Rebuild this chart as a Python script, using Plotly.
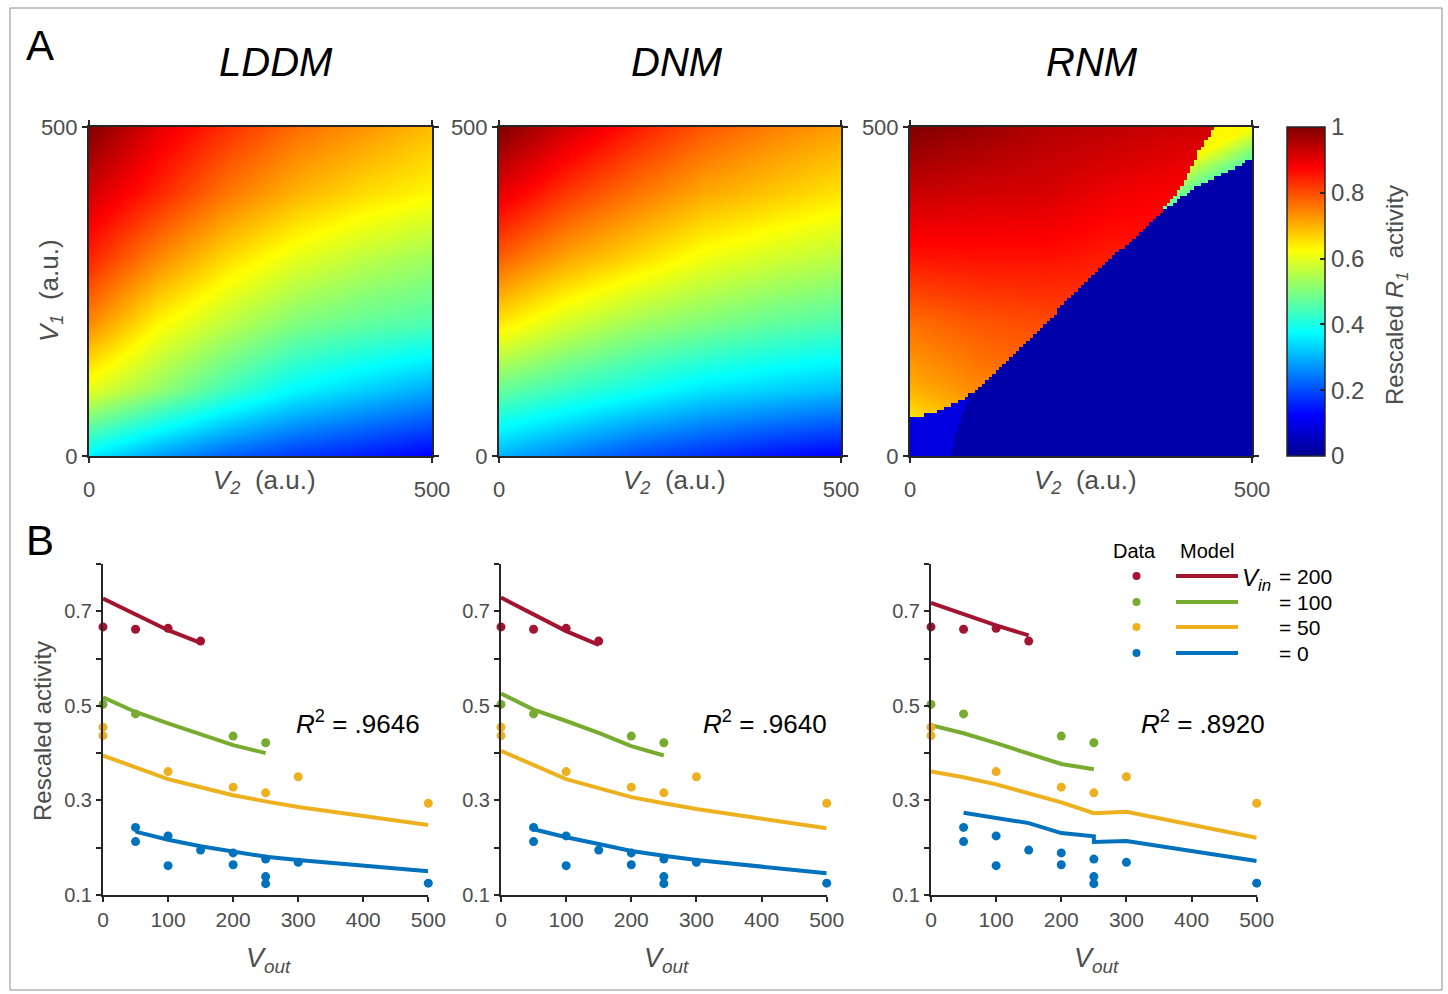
import numpy as np
import plotly.graph_objects as go

W, H = 1448, 994
FONT = "Liberation Sans, Arial, Helvetica, sans-serif"
TICK_GRAY = "#4d4d4d"
AXIS_DARK = "#262626"

# ---------------- Panel A data ----------------
GRID = [0, 100, 200, 300, 400, 500]          # V2 (columns) and V1 (rows)

# rows: V1 = 0..500, cols: V2 = 0..500
LDDM_Z = [
    [0.36, 0.28, 0.22, 0.18, 0.15, 0.12],
    [0.60, 0.52, 0.44, 0.37, 0.33, 0.29],
    [0.74, 0.63, 0.56, 0.50, 0.47, 0.45],
    [0.84, 0.74, 0.66, 0.60, 0.56, 0.53],
    [0.92, 0.84, 0.76, 0.70, 0.66, 0.63],
    [1.00, 0.90, 0.83, 0.77, 0.73, 0.69],
]
DNM_Z = [
    [0.30, 0.25, 0.20, 0.17, 0.14, 0.12],
    [0.475, 0.43, 0.39, 0.35, 0.33, 0.31],
    [0.645, 0.58, 0.53, 0.50, 0.47, 0.45],
    [0.78, 0.71, 0.66, 0.61, 0.58, 0.555],
    [0.90, 0.82, 0.76, 0.71, 0.68, 0.65],
    [1.00, 0.92, 0.85, 0.79, 0.75, 0.72],
]
# RNM: winning (upper-left) state values
RNM_UPPER = [
    [0.58, 0.66, 0.72, 0.78, 0.82, 0.85],
    [0.70, 0.74, 0.77, 0.80, 0.83, 0.85],
    [0.765, 0.79, 0.80, 0.82, 0.84, 0.86],
    [0.855, 0.86, 0.86, 0.845, 0.86, 0.87],
    [0.93, 0.92, 0.915, 0.89, 0.875, 0.88],
    [1.00, 0.975, 0.95, 0.94, 0.925, 0.92],
]
RNM_EDGE_V2 = [0, 40, 90, 130, 180, 230, 275, 325, 368]
RNM_EDGE_V1 = [57, 68, 94, 130, 181, 237, 283, 329, 372]
RNM_WEDGE_TOP_V2 = [368, 398, 422, 446]
RNM_WEDGE_TOP_V1 = [372, 411, 462, 500]
RNM_WEDGE_BOT_V2 = [368, 422, 471, 500]
RNM_WEDGE_BOT_V1 = [372, 411, 436, 452]
RNM_WEDGE_DIST = [0, 20, 50]
RNM_WEDGE_VAL = [0.47, 0.53, 0.63]
RNM_LOW_SPLIT_V1 = [0, 30, 60, 94]
RNM_LOW_SPLIT_V2 = [61, 66, 76, 88]
RNM_LOW_LIGHT = 0.09
RNM_LOW_DARK = 0.03

# ---------------- Panel B data ----------------
DATA_200_X = [0, 50, 100, 150]
DATA_200_Y = [0.667, 0.662, 0.664, 0.637]
DATA_100_X = [0, 50, 200, 250]
DATA_100_Y = [0.503, 0.483, 0.436, 0.422]
DATA_50_X = [0, 0, 100, 200, 250, 300, 500]
DATA_50_Y = [0.455, 0.437, 0.361, 0.328, 0.316, 0.350, 0.294]
DATA_0_X = [50, 50, 100, 100, 150, 200, 200, 250, 250, 250, 300, 500]
DATA_0_Y = [0.243, 0.213, 0.225, 0.162, 0.195, 0.189, 0.164, 0.176, 0.139, 0.124, 0.169, 0.125]

M200_X = [0, 50, 100, 150]
M100_X = [0, 50, 100, 150, 200, 250]
M50_X = [0, 50, 100, 150, 200, 250, 300, 500]
M0_X = [50, 100, 150, 200, 250, 300, 500]
M0_X_RNM = [50, 100, 150, 200, 250, 250, 300, 500]

LDDM_M200 = [0.727, 0.694, 0.660, 0.633]
LDDM_M100 = [0.518, 0.487, 0.463, 0.439, 0.417, 0.400]
LDDM_M50 = [0.395, 0.371, 0.345, 0.328, 0.311, 0.298, 0.286, 0.248]
LDDM_M0 = [0.234, 0.217, 0.203, 0.191, 0.181, 0.174, 0.150]

DNM_M200 = [0.729, 0.694, 0.658, 0.629]
DNM_M100 = [0.526, 0.492, 0.468, 0.443, 0.415, 0.395]
DNM_M50 = [0.405, 0.376, 0.345, 0.326, 0.307, 0.294, 0.282, 0.241]
DNM_M0 = [0.239, 0.222, 0.208, 0.193, 0.183, 0.174, 0.146]

RNM_M200 = [0.718, 0.694, 0.670, 0.649]
RNM_M100 = [0.459, 0.442, 0.421, 0.398, 0.377, 0.366]
RNM_M50 = [0.361, 0.349, 0.334, 0.315, 0.296, 0.273, 0.276, 0.221]
RNM_M0 = [0.274, 0.262, 0.252, 0.231, 0.224, 0.212, 0.214, 0.172]

R2_TEXT = [".9646", ".9640", ".8920"]
MODEL_NAMES = ["LDDM", "DNM", "RNM"]
VIN_LABELS = ["200", "100", "50", "0"]
COLORS = ["#A2142F", "#77AC30", "#EDB120", "#0072BD"]

B_YTICKS = [0.1, 0.3, 0.5, 0.7]
B_YMINOR = [0.2, 0.4, 0.6, 0.8]
B_XTICKS = [0, 100, 200, 300, 400, 500]

JET = [[0.0, "rgb(0,0,143)"], [0.125, "rgb(0,0,255)"], [0.375, "rgb(0,255,255)"],
       [0.625, "rgb(255,255,0)"], [0.875, "rgb(255,0,0)"], [1.0, "rgb(128,0,0)"]]


def bilinear(table, v2, v1):
    rows = [np.interp(v2, GRID, r) for r in table]
    return float(np.interp(v1, GRID, rows))


# build the RNM field on a fine grid from the read regions
N = 100
CELLS = np.arange(N) * 5 + 2.5
rnm_z = np.empty((N, N))
for i, v1 in enumerate(CELLS):
    for j, v2 in enumerate(CELLS):
        split = np.interp(v1, RNM_LOW_SPLIT_V1, RNM_LOW_SPLIT_V2, right=-1)
        low = RNM_LOW_LIGHT if v2 < split else RNM_LOW_DARK
        if v2 <= RNM_EDGE_V2[-1]:
            edge = np.interp(v2, RNM_EDGE_V2, RNM_EDGE_V1)
            rnm_z[i, j] = bilinear(RNM_UPPER, v2, v1) if v1 >= edge else low
        else:
            top = np.interp(v2, RNM_WEDGE_TOP_V2, RNM_WEDGE_TOP_V1, right=1e9)
            bot = np.interp(v2, RNM_WEDGE_BOT_V2, RNM_WEDGE_BOT_V1)
            if v1 >= top:
                rnm_z[i, j] = bilinear(RNM_UPPER, v2, v1)
            elif v1 >= bot:
                rnm_z[i, j] = float(np.interp(v1 - bot, RNM_WEDGE_DIST, RNM_WEDGE_VAL))
            else:
                rnm_z[i, j] = low


def px(x):
    return x / W


def py(y):
    return 1 - y / H


fig = go.Figure()

# ---------- panel A heatmaps ----------
A_X = [(89, 432), (499, 841), (910, 1252)]
A_Y = (127, 456)
fig.add_trace(go.Heatmap(x=GRID, y=GRID, z=LDDM_Z, zsmooth="best", coloraxis="coloraxis",
                         xaxis="x", yaxis="y", hoverinfo="skip"))
fig.add_trace(go.Heatmap(x=GRID, y=GRID, z=DNM_Z, zsmooth="best", coloraxis="coloraxis",
                         xaxis="x2", yaxis="y2", hoverinfo="skip"))
fig.add_trace(go.Heatmap(x=CELLS, y=CELLS, z=rnm_z, zsmooth=False, coloraxis="coloraxis",
                         xaxis="x3", yaxis="y3", hoverinfo="skip"))

# ---------- panel B lines ----------
B_X = [(103, 428.3), (501, 826.7), (931, 1256.7)]
B_Y = (564, 895)
models = [
    [(M200_X, LDDM_M200), (M100_X, LDDM_M100), (M50_X, LDDM_M50), (M0_X, LDDM_M0)],
    [(M200_X, DNM_M200), (M100_X, DNM_M100), (M50_X, DNM_M50), (M0_X, DNM_M0)],
    [(M200_X, RNM_M200), (M100_X, RNM_M100), (M50_X, RNM_M50), (M0_X_RNM, RNM_M0)],
]
datas = [(DATA_200_X, DATA_200_Y), (DATA_100_X, DATA_100_Y), (DATA_50_X, DATA_50_Y), (DATA_0_X, DATA_0_Y)]
for p in range(3):
    xa, ya = f"x{p + 4}", f"y{p + 4}"
    for k in range(4):
        mx, my = models[p][k]
        fig.add_trace(go.Scatter(x=mx, y=my, mode="lines", line=dict(color=COLORS[k], width=4),
                                 xaxis=xa, yaxis=ya, showlegend=False, cliponaxis=False,
                                 hoverinfo="skip"))
    for k in range(4):
        dx, dy = datas[k]
        fig.add_trace(go.Scatter(x=dx, y=dy, mode="markers",
                                 marker=dict(color=COLORS[k], size=9, line=dict(width=0)),
                                 xaxis=xa, yaxis=ya, showlegend=False, cliponaxis=False,
                                 hoverinfo="skip"))

layout = dict(
    width=W, height=H, margin=dict(l=0, r=0, t=0, b=0, autoexpand=False),
    paper_bgcolor="white", plot_bgcolor="white",
    font=dict(family=FONT, color=TICK_GRAY),
    showlegend=False,
    coloraxis=dict(
        colorscale=JET, cmin=0, cmax=1,
        colorbar=dict(
            x=px(1287), xanchor="left", xpad=0, y=py((A_Y[0] + A_Y[1]) / 2), yanchor="middle",
            ypad=0, len=(A_Y[1] - A_Y[0]) / H, lenmode="fraction",
            thickness=38, thicknessmode="pixels",
            outlinewidth=1.5, outlinecolor=AXIS_DARK,
            tickvals=[0, 0.2, 0.4, 0.6, 0.8, 1], ticktext=["0", "0.2", "0.4", "0.6", "0.8", "1"],
            ticks="inside", ticklen=5, tickcolor=AXIS_DARK, tickwidth=1.5,
            tickfont=dict(size=24, color=TICK_GRAY, family=FONT),
        ),
    ),
)

for p in range(3):
    sx = "" if p == 0 else str(p + 1)
    layout[f"xaxis{sx}"] = dict(
        domain=[px(A_X[p][0]), px(A_X[p][1])], anchor=f"y{sx}", range=[0, 500],
        tickvals=[0, 500], ticktext=["0", "500"], ticks="outside", ticklen=5, tickwidth=2,
        tickcolor=AXIS_DARK, showline=True, linecolor=AXIS_DARK, linewidth=2, mirror="allticks",
        showgrid=False, zeroline=False, tickfont=dict(size=22, color=TICK_GRAY),
        ticklabelstandoff=8,
    )
    layout[f"yaxis{sx}"] = dict(
        domain=[py(A_Y[1]), py(A_Y[0])], anchor=f"x{sx}", range=[0, 500],
        tickvals=[0, 500], ticktext=["0", "500"], ticks="outside", ticklen=5, tickwidth=2,
        tickcolor=AXIS_DARK, showline=True, linecolor=AXIS_DARK, linewidth=2, mirror="allticks",
        showgrid=False, zeroline=False, tickfont=dict(size=22, color=TICK_GRAY),
    )
    n = p + 4
    layout[f"xaxis{n}"] = dict(
        domain=[px(B_X[p][0]), px(B_X[p][1])], anchor=f"y{n}", range=[0, 500],
        tickvals=B_XTICKS, ticks="outside", ticklen=5, tickwidth=2,
        tickcolor=AXIS_DARK, showline=True, linecolor=AXIS_DARK, linewidth=2,
        showgrid=False, zeroline=False, tickfont=dict(size=21, color=TICK_GRAY),
    )
    layout[f"yaxis{n}"] = dict(
        domain=[py(B_Y[1]), py(B_Y[0])], anchor=f"x{n}", range=[0.1, 0.8],
        tickvals=B_YTICKS, ticktext=[f"{v:.1f}" for v in B_YTICKS],
        ticks="outside", ticklen=5, tickwidth=2,
        minor=dict(tickvals=B_YMINOR, ticks="outside", ticklen=5, tickwidth=2,
                   tickcolor=AXIS_DARK, showgrid=False),
        tickcolor=AXIS_DARK, showline=True, linecolor=AXIS_DARK, linewidth=2,
        showgrid=False, zeroline=False, tickfont=dict(size=20, color=TICK_GRAY),
    )

ann = []


def add_text(x, y, text, size, color="black", xanchor="center", yanchor="middle", angle=0):
    ann.append(dict(x=px(x), y=py(y), xref="paper", yref="paper", text=text, showarrow=False,
                    xanchor=xanchor, yanchor=yanchor, textangle=angle,
                    font=dict(size=size, color=color, family=FONT)))


add_text(40, 46, "A", 42)
add_text(40, 540, "B", 42)
TITLE_X = [276, 677, 1092]
R2_X = [358, 765, 1203]
for p in range(3):
    cx = (A_X[p][0] + A_X[p][1]) / 2
    add_text(TITLE_X[p], 62, f"<i>{MODEL_NAMES[p]}</i>", 40)
    add_text(cx + 4, 482, "<i>V</i><sub><i>2</i></sub>\u00a0 (a.u.)", 26, TICK_GRAY)
    bx = (B_X[p][0] + B_X[p][1]) / 2
    add_text(bx + 3, 960, "<i>V</i><sub><i>out</i></sub>", 27, TICK_GRAY)
    add_text(R2_X[p], 722, f"<i>R</i><sup>2</sup> = {R2_TEXT[p]}", 26, "black")
add_text(50, 291, "<i>V</i><sub><i>1</i></sub>\u00a0 (a.u.)", 26, TICK_GRAY, angle=-90)
add_text(42, 731, "Rescaled activity", 24, TICK_GRAY, angle=-90)
add_text(1396, 295, "Rescaled <i>R</i><sub><i>1</i></sub>\u00a0 activity", 24, TICK_GRAY, angle=-90)

# legend (panel B, right)
add_text(1134, 551, "Data", 20)
add_text(1207, 551, "Model", 20)
LEG_Y = [576, 602, 627, 653]
shapes = []
for k in range(4):
    y = LEG_Y[k]
    shapes.append(dict(type="circle", xref="paper", yref="paper",
                       x0=px(1136.5 - 4), x1=px(1136.5 + 4), y0=py(y + 4), y1=py(y - 4),
                       fillcolor=COLORS[k], line=dict(width=0)))
    shapes.append(dict(type="line", xref="paper", yref="paper",
                       x0=px(1176), x1=px(1238), y0=py(y), y1=py(y),
                       line=dict(color=COLORS[k], width=4)))
    add_text(1277, y, f"= {VIN_LABELS[k]}", 21, "black", xanchor="left")
add_text(1240, 579, "<i>V</i><sub><i>in</i></sub>", 24, "black", xanchor="left")

shapes.append(dict(type="rect", xref="paper", yref="paper", x0=px(10), x1=px(1442),
                   y0=py(990), y1=py(8), line=dict(color="#8c8c8c", width=1)))

layout["annotations"] = ann
layout["shapes"] = shapes
fig.update_layout(**layout)

fig.write_html("out.html", config={"displayModeBar": False},
               post_script="document.body.style.margin='0px';document.body.style.overflow='hidden';")
